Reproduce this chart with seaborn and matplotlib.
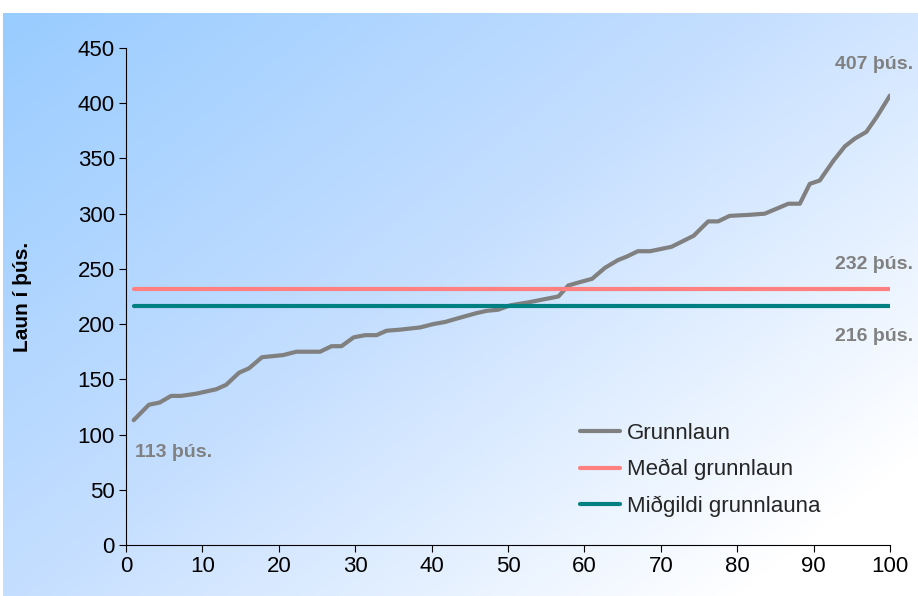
import numpy as np
import matplotlib
matplotlib.use("Agg")
import matplotlib.pyplot as plt
import seaborn as sns
from matplotlib.colors import LinearSegmentedColormap
from matplotlib.lines import Line2D

# hundraðshluti (x) og grunnlaun í þús. kr. (y), lesið af myndinni
pct = [1, 3, 4.4, 5.9, 7.2, 9.2, 11.8, 13.1, 14.8, 16.1, 17.8, 20.6, 22.3, 25.4,
       26.9, 28.2, 29.8, 31.3, 32.8, 34.1, 35.9, 38.5, 40.2, 41.8, 43.3, 45.9,
       47.2, 48.7, 50.3, 52.9, 55.1, 56.6, 57.9, 59.4, 61, 62.7, 64.4, 65.5, 67,
       68.6, 71.4, 74.3, 76.2, 77.5, 79, 81.7, 83.6, 86.7, 88.2, 89.5, 90.8,
       92.6, 94.1, 95.4, 96.9, 98.3, 100]
laun = [113, 127, 129, 135, 135, 137, 141, 145, 156, 160, 170, 172, 175, 175,
        180, 180, 188, 190, 190, 194, 195, 197, 200, 202, 205, 210, 212, 213,
        217, 220, 223, 225, 235, 238, 241, 251, 258, 261, 266, 266, 270, 280,
        293, 293, 298, 299, 300, 309, 309, 327, 330, 348, 361, 368, 374, 388, 407]
medal = 232
midgildi = 216
series_names = ["Grunnlaun", "Meðal grunnlaun", "Miðgildi grunnlauna"]
colors = ["#808080", "#FF8080", "#008080"]

sns.set_style("white")
plt.rcParams["font.family"] = ["Liberation Sans", "DejaVu Sans"]

fig = plt.figure(figsize=(9.18, 5.96), dpi=100)

# bakgrunnur með litaskiptingu
bg = fig.add_axes([3 / 918, 0, 1 - 3 / 918, 1 - 13 / 596])
u = np.linspace(0, 1, 300)
v = np.linspace(0, 1, 200)
U, V = np.meshgrid(u, v)
T = np.clip(0.62 * U + 0.5 * V, 0, 1)
cmap = LinearSegmentedColormap.from_list("bg", ["#99CCFF", "#C4DEFF", "#FFFFFF"])
bg.imshow(T, cmap=cmap, aspect="auto", extent=[0, 1, 1, 0], vmin=0, vmax=1)
bg.axis("off")

ax = fig.add_axes([126 / 918, 1 - 545 / 596, (890 - 126) / 918, (545 - 48) / 596])
ax.patch.set_alpha(0)

sns.lineplot(x=pct, y=laun, ax=ax, color=colors[0], lw=3)
sns.lineplot(x=[pct[0], pct[-1]], y=[medal, medal], ax=ax, color=colors[1], lw=3)
sns.lineplot(x=[pct[0], pct[-1]], y=[midgildi, midgildi], ax=ax, color=colors[2], lw=3)

ax.set_xlim(0, 100)
ax.set_ylim(0, 450)
ax.set_xticks(range(0, 101, 10))
ax.set_yticks(range(0, 451, 50))
for s in ["top", "right"]:
    ax.spines[s].set_visible(False)
for s in ["left", "bottom"]:
    ax.spines[s].set_color("black")
    ax.spines[s].set_linewidth(0.8)
ax.tick_params(axis="both", labelsize=16, length=5, width=0.8, color="black",
               labelcolor="black", direction="out", left=True, bottom=True, pad=3)
ax.set_ylabel("Laun í þús.", fontsize=15, fontweight="bold", color="black")
ax.yaxis.set_label_coords(-(126 - 32) / 764, 0.5)

lab = dict(color="#808080", fontsize=14, fontweight="bold")
ax.text(1.2, 84, f"{laun[0]} þús.", ha="left", va="center", **lab)
ax.text(103, 435, f"{laun[-1]} þús.", ha="right", va="center", **lab)
ax.text(103, 254, f"{medal} þús.", ha="right", va="center", **lab)
ax.text(103, 189, f"{midgildi} þús.", ha="right", va="center", **lab)

handles = [Line2D([0], [0], color=c, lw=3) for c in colors]
ax.legend(handles, series_names, loc="upper left",
          bbox_to_anchor=((580 - 126) / 764, (545 - 423) / 497),
          frameon=False, fontsize=16, handlelength=1.8, handletextpad=0.3,
          labelspacing=0.68, borderpad=0, borderaxespad=0)

fig.savefig("out.png", dpi=100)
